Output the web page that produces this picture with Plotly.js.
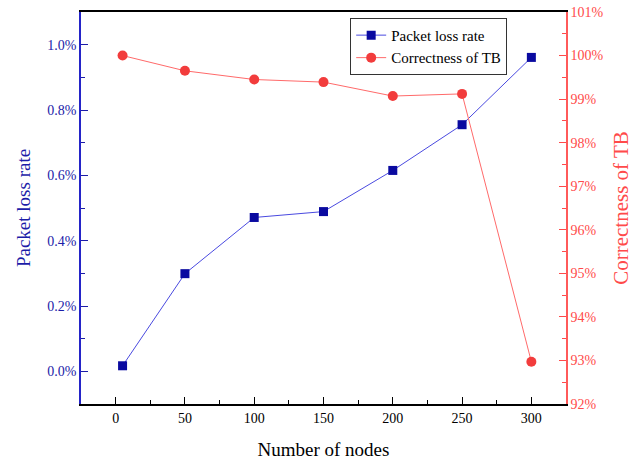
<!DOCTYPE html>
<html>
<head>
<meta charset="utf-8">
<script src="https://cdn.plot.ly/plotly-3.0.1.min.js"></script>
<style>
  html, body { margin: 0; padding: 0; background: #fff; }
  #chart { width: 633px; height: 461px; }
</style>
</head>
<body>
<div id="chart"></div>
<script>
// Number of nodes in the network
const nodes = [5, 50, 100, 150, 200, 250, 300];
// Packet loss rate (%)
const packetLoss = [0.017, 0.299, 0.471, 0.489, 0.615, 0.755, 0.961];
// Correctness of TB (%)
const correctness = [100.0, 99.65, 99.45, 99.39, 99.07, 99.12, 92.97];

// Axis ticks
const xTicks = [0, 50, 100, 150, 200, 250, 300];
const lossTicks = [0, 0.2, 0.4, 0.6, 0.8, 1.0];
const lossTickText = ['0.0%', '0.2%', '0.4%', '0.6%', '0.8%', '1.0%'];
const corrTicks = [92, 93, 94, 95, 96, 97, 98, 99, 100, 101];
const corrTickText = ['92%', '93%', '94%', '95%', '96%', '97%', '98%', '99%', '100%', '101%'];

const serif = '"Liberation Serif", "Times New Roman", serif';
const blue = '#1c1ca8';
const red = '#ff4a4a';

const traces = [
  {
    x: nodes, y: packetLoss, name: 'Packet loss rate',
    type: 'scatter', mode: 'lines+markers',
    line: { color: '#4a4ae0', width: 1 },
    marker: { symbol: 'square', size: 9, color: '#0a0aa0' },
    yaxis: 'y'
  },
  {
    x: nodes, y: correctness, name: 'Correctness of TB',
    type: 'scatter', mode: 'lines+markers',
    line: { color: '#ff6a6a', width: 1 },
    marker: { symbol: 'circle', size: 10, color: '#f23c3c' },
    yaxis: 'y2'
  }
];

const layout = {
  width: 633, height: 461,
  margin: { l: 81, r: 67, t: 12, b: 57 },
  paper_bgcolor: '#fff', plot_bgcolor: '#fff',
  font: { family: serif, size: 14, color: '#000' },
  showlegend: true,
  legend: {
    x: 0.555, y: 0.985, xanchor: 'left', yanchor: 'top',
    bgcolor: '#fff', bordercolor: '#333', borderwidth: 1,
    font: { family: serif, size: 15, color: '#000' },
    tracegroupgap: 0, itemwidth: 30
  },
  xaxis: {
    range: [-25, 325],
    tickmode: 'array', tickvals: xTicks,
    ticks: 'inside', ticklen: 7, tickwidth: 1.2, tickcolor: '#000',
    minor: { dtick: 25, tick0: 0, ticks: 'inside', ticklen: 4, tickcolor: '#000', tickwidth: 1.2 },
    showline: true, linecolor: '#000', linewidth: 1.5, mirror: true,
    showgrid: false, zeroline: false,
    tickfont: { family: serif, size: 14, color: '#000' },
    title: { text: 'Number of nodes', font: { family: serif, size: 19, color: '#000' }, standoff: 18 }
  },
  yaxis: {
    range: [-0.1, 1.1],
    tickmode: 'array', tickvals: lossTicks, ticktext: lossTickText,
    ticks: 'inside', ticklen: 7, tickwidth: 1.2, tickcolor: blue,
    minor: { dtick: 0.1, tick0: 0, ticks: 'inside', ticklen: 4, tickcolor: blue, tickwidth: 1.2 },
    showline: true, linecolor: '#2424c8', linewidth: 1.5,
    showgrid: false, zeroline: false,
    tickfont: { family: serif, size: 14, color: blue },
    title: { text: 'Packet loss rate', font: { family: serif, size: 19, color: blue }, standoff: 12 }
  },
  yaxis2: {
    overlaying: 'y', side: 'right',
    range: [92, 101],
    tickmode: 'array', tickvals: corrTicks, ticktext: corrTickText,
    ticks: 'inside', ticklen: 7, tickwidth: 1.2, tickcolor: red,
    minor: { dtick: 0.5, tick0: 92, ticks: 'inside', ticklen: 4, tickcolor: red, tickwidth: 1.2 },
    showline: true, linecolor: '#ff5a5a', linewidth: 1.5,
    showgrid: false, zeroline: false,
    tickfont: { family: serif, size: 14, color: red },
    title: { text: 'Correctness of TB', font: { family: serif, size: 21, color: red }, standoff: 15 }
  }
};

Plotly.newPlot('chart', traces, layout, { displayModeBar: false, responsive: false });
</script>
</body>
</html>
